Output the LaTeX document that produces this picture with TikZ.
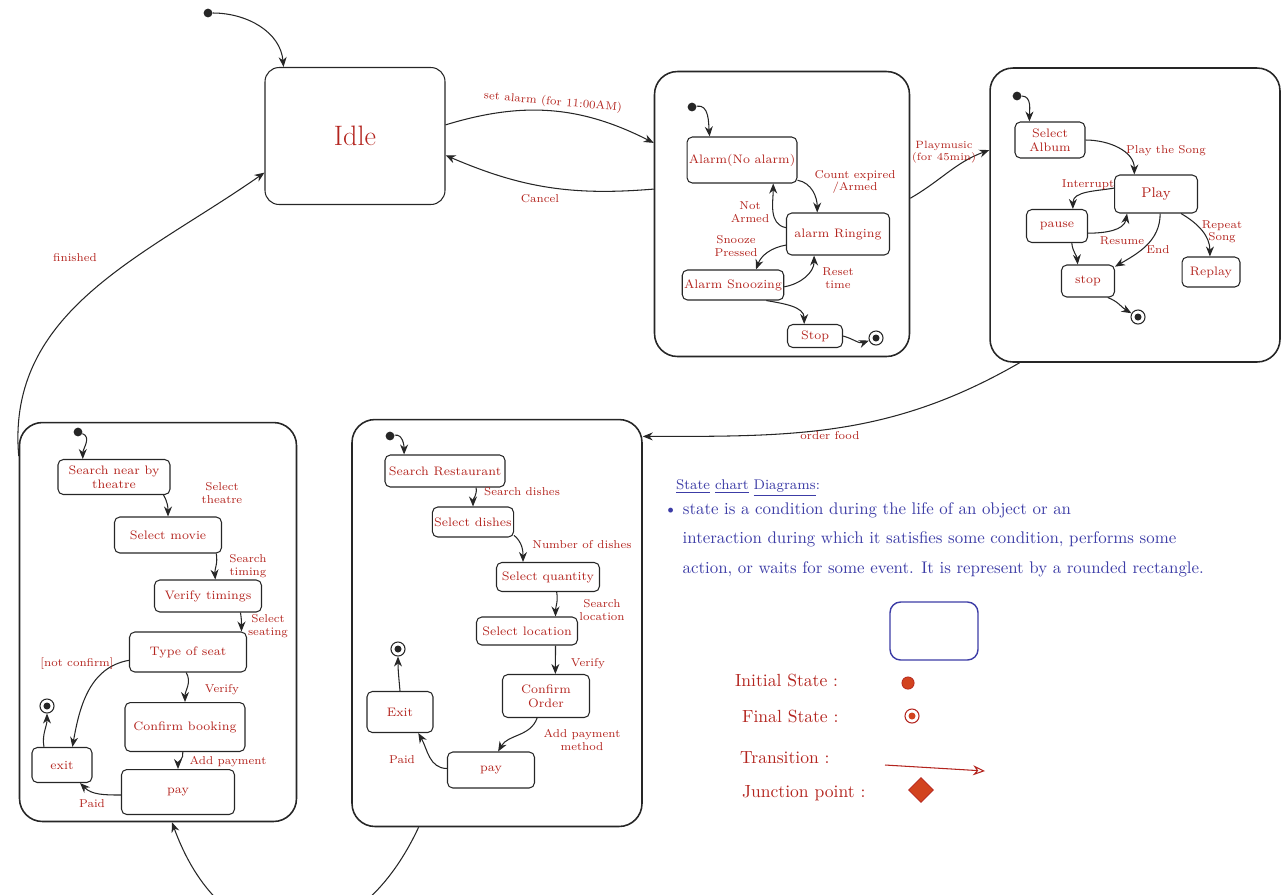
\documentclass[tikz,border=0pt]{standalone}
\usepackage{xcolor}
\usepackage{tikz}
\usetikzlibrary{arrows.meta,positioning,shapes.geometric}
\definecolor{chartInk}{HTML}{262626}
\definecolor{chartRed}{HTML}{B3241E}
\definecolor{chartBlue}{HTML}{3C3CA6}
\definecolor{chartOrange}{HTML}{D2431F}
\tikzset{
  stateBox/.style={
    rectangle,
    rounded corners=3pt,
    draw=chartInk,
    line width=0.6pt,
    align=center,
    inner sep=1pt,
    text=chartRed,
    font=\fontsize{7}{8}\selectfont
  },
  compositeBox/.style={
    rectangle,
    rounded corners=13pt,
    draw=chartInk,
    line width=0.9pt
  },
  eventLabel/.style={
    text=chartRed,
    align=center,
    inner sep=1pt,
    font=\fontsize{6.5}{7}\selectfont
  },
  legendLabel/.style={
    text=chartRed,
    anchor=west,
    inner sep=1pt,
    font=\fontsize{10}{12}\selectfont
  },
  trans/.style={
    -{Stealth[length=2mm,width=1.6mm]},
    line width=0.6pt,
    draw=chartInk
  },
  initDot/.style={
    circle,
    fill=chartInk,
    inner sep=0pt,
    minimum size=5pt
  },
  finalDot/.style={
    circle,
    draw=chartInk,
    line width=0.6pt,
    inner sep=0pt,
    minimum size=8pt,
    path picture={\fill[chartInk] (path picture bounding box.center) circle (2pt);}
  }
}

\begin{document}
\begin{tikzpicture}[x=0.02cm,y=-0.02cm]
  \useasboundingbox (0,0) rectangle (1283,894);
  \clip (0,0) rectangle (1283,894);

  % top level
  \node[initDot] (topInit) at (208,13) {};
  \node[stateBox,rounded corners=8pt,minimum width=3.6cm,minimum height=2.74cm,font=\fontsize{16}{18}\selectfont] (idle) at (355,136) {Idle};
  \node[compositeBox,minimum width=5.1cm,minimum height=5.7cm] (alarmBox) at (782,214) {};
  \node[compositeBox,minimum width=5.8cm,minimum height=5.88cm] (musicBox) at (1135,215) {};
  \node[compositeBox,minimum width=5.54cm,minimum height=7.98cm] (movieBox) at (158,622) {};
  \node[compositeBox,minimum width=5.8cm,minimum height=8.14cm] (foodBox) at (497,623) {};

  \draw[trans] (topInit) to[out=0,in=95] (idle.136);
  \draw[trans] (idle.7) to[bend left=22] (alarmBox.151);
  \draw[trans] (alarmBox.169) to[bend left=14] (idle.-12);
  \draw[trans] (alarmBox.7) to[out=30,in=200] (musicBox.156);
  \draw[trans] (musicBox.-128) to[out=210,in=0] (foodBox.52);
  \draw[trans] (movieBox.130) to[out=95,in=215] (idle.-158);
  \draw[trans] (foodBox.-111) to[out=-115,in=-70,looseness=1.6] (movieBox.-86);

  \node[eventLabel,rotate=-5] (lbSetAlarm) at (553,102) {set alarm (for 11:00AM)};
  \node[eventLabel] (lbCancel) at (540,199) {Cancel};
  \node[eventLabel,font=\fontsize{6}{6.5}\selectfont] (lbPlayMusic) at (944,152) {Playmusic\\(for 45min)};
  \node[eventLabel] (lbOrderFood) at (830,436) {order food};
  \node[eventLabel] (lbFinished) at (75,258) {finished};

  % alarm
  \node[initDot] (alarmInit) at (692,107) {};
  \node[stateBox,minimum width=2.02cm,minimum height=0.92cm] (noAlarm) at (742,160) {Alarm(No alarm)};
  \node[stateBox,minimum width=2.06cm,minimum height=0.84cm] (ringing) at (838,234) {alarm Ringing};
  \node[stateBox,minimum width=1.88cm,minimum height=0.6cm] (snoozing) at (733,285) {Alarm Snoozing};
  \node[stateBox,minimum width=1.1cm,minimum height=0.46cm] (stopAlarm) at (815,336) {Stop};
  \node[finalDot] (alarmFinal) at (876,338) {};
  \draw[trans] (alarmInit) to[out=10,in=95] (noAlarm.144);
  \draw[trans] (noAlarm.-20) to[out=-10,in=90] (ringing.134);
  \draw[trans] (ringing.173) to[out=170,in=-90] (noAlarm.-37);
  \draw[trans] (ringing.192) to[out=190,in=70] (snoozing.34);
  \draw[trans] (snoozing.-2) to[out=10,in=-90] (ringing.-138);
  \draw[trans] (snoozing.-25) to[out=-10,in=90] (stopAlarm.132);
  \draw[trans] (stopAlarm.east) to[out=-15,in=200] (alarmFinal);
  \node[eventLabel] (lbCount) at (855,182) {Count expired\\/Armed};
  \node[eventLabel] (lbNotArmed) at (750,212) {Not\\Armed};
  \node[eventLabel] (lbSnooze) at (736,246) {Snooze\\Pressed};
  \node[eventLabel] (lbReset) at (838,278) {Reset\\time};

  % music
  \node[initDot] (musicInit) at (1017,96) {};
  \node[stateBox,minimum width=1.4cm,minimum height=0.72cm] (selAlbum) at (1050,140) {Select\\Album};
  \node[stateBox,minimum width=1.66cm,minimum height=0.76cm,font=\fontsize{8}{9}\selectfont] (play) at (1156,194) {Play};
  \node[stateBox,minimum width=1.22cm,minimum height=0.66cm] (pause) at (1057,226) {pause};
  \node[stateBox,minimum width=1.06cm,minimum height=0.64cm] (stopMusic) at (1088,281) {stop};
  \node[stateBox,minimum width=1.16cm,minimum height=0.6cm] (replay) at (1211,272) {Replay};
  \node[finalDot] (musicFinal) at (1138,317) {};
  \draw[trans] (musicInit) to[out=0,in=90] (selAlbum.138);
  \draw[trans] (selAlbum.east) to[out=0,in=90] (play.138);
  \draw[trans] (play.172) to[out=190,in=90] (pause.47);
  \draw[trans] (pause.-13) to[out=0,in=-100] (play.-146);
  \draw[trans] (pause.-49) to[out=-85,in=95] (stopMusic.122);
  \draw[trans] (play.-78) to[out=-90,in=30] (stopMusic.28);
  \draw[trans] (play.-38) to[out=-30,in=90] (replay.94);
  \draw[trans] (stopMusic.-40) to[out=-20,in=150] (musicFinal);
  \node[eventLabel] (lbPlaySong) at (1166,151) {Play the Song};
  \node[eventLabel] (lbInterrupt) at (1088,185) {Interrupt};
  \node[eventLabel] (lbResume) at (1122,241) {Resume};
  \node[eventLabel] (lbEnd) at (1158,250) {End};
  \node[eventLabel] (lbRepeat) at (1222,232) {Repeat\\Song};

  % movie
  \node[initDot] (movieInit) at (78,432) {};
  \node[stateBox,minimum width=2.24cm,minimum height=0.7cm] (searchTheatre) at (114,477) {Search near by\\theatre};
  \node[stateBox,minimum width=2.14cm,minimum height=0.72cm] (selMovie) at (168,535) {Select movie};
  \node[stateBox,minimum width=2.14cm,minimum height=0.64cm] (verifyTime) at (208,596) {Verify timings};
  \node[stateBox,minimum width=2.34cm,minimum height=0.8cm] (seatType) at (188,652) {Type of seat};
  \node[stateBox,minimum width=2.4cm,minimum height=0.98cm] (confirmBook) at (185,727) {Confirm booking};
  \node[stateBox,minimum width=2.26cm,minimum height=0.9cm] (payMovie) at (178,792) {pay};
  \node[stateBox,minimum width=1.2cm,minimum height=0.7cm] (exitMovie) at (62,765) {exit};
  \node[finalDot] (movieFinal) at (47,706) {};
  \draw[trans] (movieInit) to[out=-20,in=90] (searchTheatre.150);
  \draw[trans] (searchTheatre.-20) to[out=-60,in=90] (selMovie.north);
  \draw[trans] (selMovie.-21) to[out=-80,in=95] (verifyTime.66);
  \draw[trans] (verifyTime.-27) to[out=-80,in=90] (seatType.21);
  \draw[trans] (seatType.-95) to[out=-60,in=90] (confirmBook.north);
  \draw[trans] (confirmBook.-95) to[out=-80,in=90] (payMovie.north);
  \draw[trans] (seatType.188) to[out=190,in=80] (exitMovie.60);
  \draw[trans] (payMovie.183) to[out=180,in=-45] (exitMovie.-45);
  \draw[trans] (exitMovie.135) to[out=100,in=-90] (movieFinal);
  \node[eventLabel] (lbSelTheatre) at (222,493) {Select\\theatre};
  \node[eventLabel] (lbSearchTime) at (248,566) {Search\\timing};
  \node[eventLabel] (lbSelSeat) at (268,626) {Select\\seating};
  \node[eventLabel] (lbVerifyMovie) at (222,690) {Verify};
  \node[eventLabel] (lbAddPayMovie) at (228,762) {Add payment};
  \node[eventLabel] (lbNotConfirm) at (77,664) {[not confirm]};
  \node[eventLabel] (lbPaidMovie) at (92,804) {Paid};

  % food
  \node[initDot] (foodInit) at (390,436) {};
  \node[stateBox,minimum width=2.4cm,minimum height=0.64cm] (searchRest) at (445,471) {Search Restaurant};
  \node[stateBox,minimum width=1.2cm,minimum height=0.6cm] (selDishes) at (473,522) {Select dishes};
  \node[stateBox,minimum width=2.06cm,minimum height=0.58cm] (selQty) at (548,577) {Select quantity};
  \node[stateBox,minimum width=2.02cm,minimum height=0.56cm] (selLoc) at (527,631) {Select location};
  \node[stateBox,minimum width=1.74cm,minimum height=0.86cm] (confirmOrder) at (546,696) {Confirm\\Order};
  \node[stateBox,minimum width=1.74cm,minimum height=0.72cm] (payFood) at (491,770) {pay};
  \node[stateBox,minimum width=1.32cm,minimum height=0.82cm] (exitFood) at (400,712) {Exit};
  \node[finalDot] (foodFinal) at (398,649) {};
  \draw[trans] (foodInit) to[out=10,in=90] (searchRest.158);
  \draw[trans] (searchRest.-28) to[out=-80,in=90] (selDishes.north);
  \draw[trans] (selDishes.-18) to[out=-40,in=90] (selQty.149);
  \draw[trans] (selQty.-60) to[out=-80,in=90] (selLoc.27);
  \draw[trans] (selLoc.-27) to[out=-90,in=90] (confirmOrder.67);
  \draw[trans] (confirmOrder.-112) to[out=-110,in=60] (payFood.69);
  \draw[trans] (payFood.178) to[out=180,in=-60] (exitFood.-49);
  \draw[trans] (exitFood.north) to[out=95,in=-90] (foodFinal);
  \node[eventLabel] (lbSearchDishes) at (522,492) {Search dishes};
  \node[eventLabel] (lbNumDishes) at (582,545) {Number of dishes};
  \node[eventLabel] (lbSearchLoc) at (602,610) {Search\\location};
  \node[eventLabel] (lbVerifyFood) at (588,664) {Verify};
  \node[eventLabel] (lbAddPayFood) at (582,740) {Add payment\\method};
  \node[eventLabel] (lbPaidFood) at (402,760) {Paid};

  % notes and legend
  \node[anchor=west,text=chartBlue,inner sep=1pt,font=\fontsize{8}{9}\selectfont] (noteTitle) at (674,488) {\underline{State} \underline{chart} \underline{Diagrams}:};
  \node[anchor=north west,align=left,text=chartBlue,inner sep=1pt,font=\fontsize{9.6}{17}\selectfont] (noteText) at (662,500)
    {\textbullet\ state is a condition during the life of an object or an\\
     \hspace{1.1em}interaction during which it satisfies some condition, performs some\\
     \hspace{1.1em}action, or waits for some event. It is represent by a rounded rectangle.};
  \node[rectangle,rounded corners=6pt,draw=chartBlue,line width=0.8pt,minimum width=1.76cm,minimum height=1.16cm] (legendBox) at (934,631) {};
  \node[legendLabel] (lgInitial) at (733,680) {Initial State :};
  \node[circle,fill=chartOrange,draw=chartRed,inner sep=0pt,minimum size=7pt] (lgInitDot) at (908,683) {};
  \node[legendLabel] (lgFinal) at (740,716) {Final State :};
  \node[finalDot,draw=chartRed,path picture={\fill[chartOrange] (path picture bounding box.center) circle (2pt);}] (lgFinalDot) at (912,716) {};
  \node[legendLabel] (lgTransition) at (738,758) {Transition :};
  \coordinate (lgTranStart) at (885,765);
  \coordinate (lgTranEnd) at (985,771);
  \draw[-{Stealth[length=2.4mm,width=2mm,open]},line width=0.6pt,draw=chartRed] (lgTranStart) -- (lgTranEnd);
  \node[legendLabel] (lgJunction) at (740,793) {Junction point :};
  \node[diamond,fill=chartOrange,draw=chartRed,inner sep=0pt,minimum size=0.5cm] (lgJunctionMark) at (921,790) {};
\end{tikzpicture}
\end{document}
